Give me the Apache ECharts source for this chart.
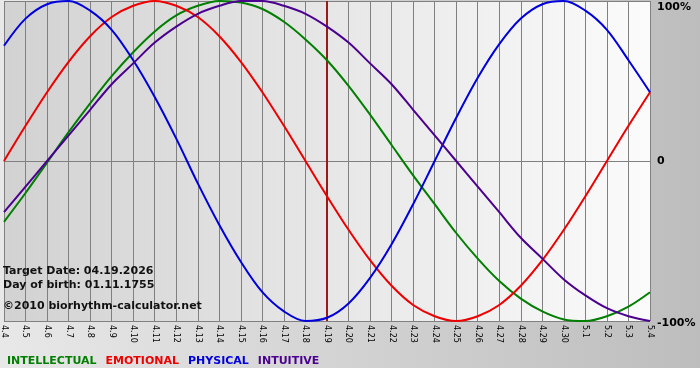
<!DOCTYPE html>
<html>
<head>
<meta charset="utf-8">
<script src="https://cdn.jsdelivr.net/npm/echarts@6/dist/echarts.min.js"></script>
<style>
html,body{margin:0;padding:0;background:#fff;}
#chart{width:700px;height:380px;}
</style>
</head>
<body>
<div id="chart"></div>
<script>
const categories = ['4.4','4.5','4.6','4.7','4.8','4.9','4.10','4.11','4.12','4.13','4.14','4.15','4.16','4.17','4.18','4.19','4.20','4.21','4.22','4.23','4.24','4.25','4.26','4.27','4.28','4.29','4.30','5.1','5.2','5.3','5.4'];
const intellectual = [-38,-20,-1,18,36,53,68,81,91,97,100,99,95,87,76,63,47,29,10,-9,-27,-45,-61,-75,-86,-94,-99,-100,-97,-91,-82];
const emotional = [0,22,43,62,78,90,97,100,97,90,78,62,43,22,0,-22,-43,-62,-78,-90,-97,-100,-97,-90,-78,-62,-43,-22,0,22,43];
const physical = [72,89,98,100,94,82,63,40,14,-14,-40,-63,-82,-94,-100,-98,-89,-73,-52,-27,0,27,52,73,89,98,100,94,82,63,43];
const intuitive = [-32,-16,0,16,32,48,61,74,84,92,97,100,100,97,92,84,74,61,48,32,16,0,-16,-32,-48,-61,-74,-84,-92,-97,-100];
const yTicks = {'100':'100%','0':'0','-100':'-100%'};
const targetDate = '4.19';
const infoLines = ['Target Date: 04.19.2026','Day of birth: 01.11.1755','\u00a92010 biorhythm-calculator.net'];
const seriesNames = ['INTELLECTUAL','EMOTIONAL','PHYSICAL','INTUITIVE'];
const seriesColors = ['#007f00','#ee0000','#0000dd','#4b0090'];
const seriesData = [intellectual, emotional, physical, intuitive];

const FONT = 'DejaVu Sans';
const chart = echarts.init(document.getElementById('chart'), null, {renderer:'canvas'});

const series = seriesNames.map((n,i)=>({
  name:n, type:'line', data:seriesData[i], smooth:0.33, symbol:'none',
  lineStyle:{color:seriesColors[i], width:2}, itemStyle:{color:seriesColors[i]},
  clip:true, z:3
}));
series[0].markLine = {
  silent:true, symbol:['none','none'], label:{show:false},
  lineStyle:{color:'#9a1a1a', width:2, type:'solid'},
  data:[{xAxis:targetDate}], z:2
};

chart.setOption({
  animation:false,
  backgroundColor:{type:'linear',x:0,y:0,x2:1,y2:0,colorStops:[{offset:0,color:'#e8e8e8'},{offset:1,color:'#bdbdbd'}]},
  grid:{left:1,right:50,top:1,bottom:59,show:true,borderWidth:0,
    backgroundColor:{type:'linear',x:0,y:0,x2:1,y2:0,colorStops:[{offset:0,color:'#d2d2d2'},{offset:1,color:'#fbfbfb'}]}},
  xAxis:{type:'category',data:categories,boundaryGap:false,
    axisLine:{lineStyle:{color:'#808080',width:1}},
    axisTick:{show:true,length:3,interval:0,lineStyle:{color:'#808080'}},
    splitLine:{show:true,interval:0,lineStyle:{color:'#808080',width:1}},
    axisLabel:{interval:0,rotate:-90,margin:4,fontFamily:FONT,fontSize:8,color:'#000'}},
  yAxis:{type:'value',position:'right',min:-100,max:100,interval:100,
    axisLine:{show:false},axisTick:{show:false},
    splitLine:{show:true,lineStyle:{color:'#808080',width:1}},
    axisLabel:{margin:7,fontFamily:FONT,fontSize:11,fontWeight:'bold',color:'#000',
      formatter:v=>{const s=yTicks[String(v)]; if(v===100) return '{t|'+s+'}'; if(v===-100) return '{b|'+s+'}'; return s;},
      rich:{t:{padding:[12,0,0,0],fontFamily:FONT,fontSize:11,fontWeight:'bold',color:'#000'},
            b:{padding:[4,0,0,0],fontFamily:FONT,fontSize:11,fontWeight:'bold',color:'#000'}}}},
  legend:{show:true,left:2,top:356,padding:0,itemWidth:0,itemHeight:0,itemGap:4,selectedMode:false,
    textStyle:{fontFamily:FONT,fontSize:11,fontWeight:'bold'},
    data:seriesNames.map((n,i)=>({name:n,icon:'rect',textStyle:{color:seriesColors[i]}}))},
  graphic:[
    {type:'rect',left:0,top:368,shape:{width:700,height:12},style:{fill:'#ffffff'},silent:true,z:0},
    ...infoLines.map((t,i)=>({type:'text',left:3,top:[266,280,301][i],z:10,
      style:{text:t,fill:'#111',font:'bold 11px "DejaVu Sans"'}}))
  ],
  series:series
});
</script>
</body>
</html>
